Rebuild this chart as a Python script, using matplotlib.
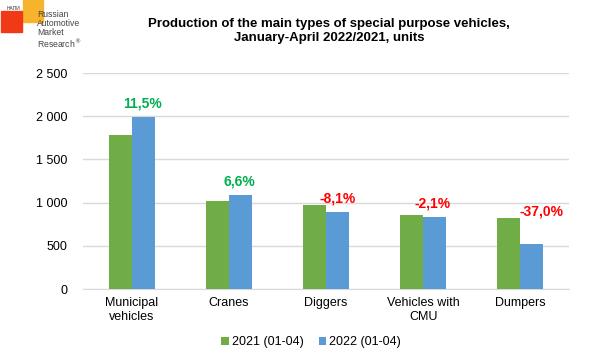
import matplotlib
matplotlib.use('Agg')
import matplotlib.pyplot as plt
import numpy as np
from matplotlib.patches import Rectangle

plt.rcParams['font.family'] = ['Liberation Sans', 'DejaVu Sans']

# -------------------------------------------------------------------------
# data
# -------------------------------------------------------------------------
CATEGORIES = ['Municipal\nvehicles', 'Cranes', 'Diggers', 'Vehicles with\nCMU', 'Dumpers']
VALUES_2021 = [1782, 1018, 972, 856, 822]
VALUES_2022 = [1988, 1086, 893, 838, 518]
CHANGE_LABELS = ['11,5%', '6,6%', '-8,1%', '-2,1%', '-37,0%']
Y_TICKS = [0, 500, 1000, 1500, 2000, 2500]
Y_TICK_LABELS = ['0', '500', '1 000', '1 500', '2 000', '2 500']
SERIES = ['2021 (01-04)', '2022 (01-04)']

GREEN = '#70AD47'
BLUE = '#5B9BD5'

# label placement (x shift in category units, y gap in points)
LABEL_DX = [0.11, 0.11, 0.12, 0.10, 0.22]
LABEL_DY = [10, 10, 5, 8.5, 4.5]

fig = plt.figure(figsize=(6.01, 3.55), dpi=100)
ax = fig.add_axes([83 / 601, 1 - 289 / 355, 486 / 601, 216 / 355])

x = np.arange(len(CATEGORIES))
w = 0.237
ax.bar(x - w / 2, VALUES_2021, w, color=GREEN, label=SERIES[0], zorder=3)
ax.bar(x + w / 2, VALUES_2022, w, color=BLUE, label=SERIES[1], zorder=3)

for i, lab in enumerate(CHANGE_LABELS):
    col = '#00B050' if not lab.startswith('-') else '#FF0000'
    top = max(VALUES_2021[i], VALUES_2022[i])
    ax.annotate(lab, (i + LABEL_DX[i], top), xytext=(0, LABEL_DY[i]),
                textcoords='offset points', ha='center', va='center',
                color=col, fontsize=10, fontweight='bold')

ax.set_xlim(-0.5, len(CATEGORIES) - 0.5)
ax.set_ylim(0, 2500)
ax.set_yticks(Y_TICKS)
ax.set_yticklabels(Y_TICK_LABELS)
ax.set_xticks(x)
ax.set_xticklabels(CATEGORIES)
ax.tick_params(axis='both', length=0, labelsize=9, colors='#000000')
ax.tick_params(axis='y', pad=11)
ax.tick_params(axis='x', pad=6)
ax.grid(axis='y', color='#D9D9D9', linewidth=1, zorder=0)
for s in ['top', 'right', 'left']:
    ax.spines[s].set_visible(False)
ax.spines['bottom'].set_color('#D9D9D9')

fig.legend(loc='center', bbox_to_anchor=(311 / 601, 1 - 342 / 355), ncol=2,
           frameon=False, fontsize=9, handlelength=0.6, handleheight=0.6,
           handletextpad=0.25, columnspacing=1.2)

fig.text(329 / 601, 1 - 31 / 355,
         'Production of the main types of special purpose vehicles,\nJanuary-April 2022/2021, units',
         ha='center', va='center', fontsize=9.5, fontweight='bold', linespacing=1.3)

# logo
fig.patches.append(Rectangle((1 / 601, 1 - 32 / 355), 21 / 601, 21 / 355,
                             transform=fig.transFigure, color='#F03A17', zorder=1))
fig.patches.append(Rectangle((23 / 601, 1 - 22 / 355), 20 / 601, 22 / 355,
                             transform=fig.transFigure, color='#F7B32B', zorder=0))
fig.text(7 / 601, 1 - 8 / 355, 'НАПИ', fontsize=3.5, va='center', color='#333333')
fig.text(37 / 601, 1 - 30 / 355, 'Russian\nAutomotive\nMarket\nResearch$^®$',
         fontsize=6.2, va='center', color='#444444', linespacing=1.05)

plt.savefig('out.png', dpi=100)
